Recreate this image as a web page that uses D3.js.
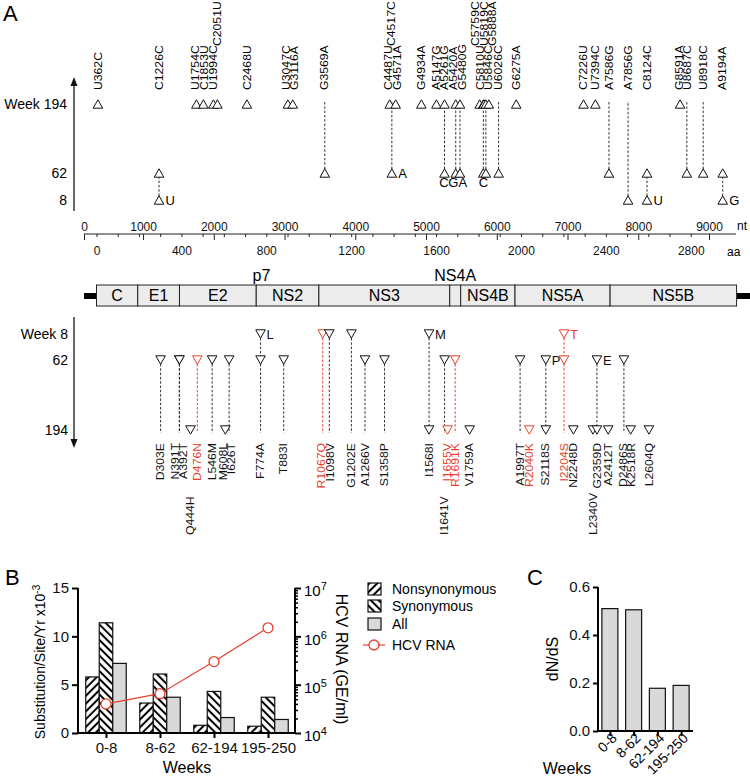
<!DOCTYPE html>
<html><head><meta charset="utf-8">
<script src="https://cdn.jsdelivr.net/npm/d3@7"></script>
<style>body{margin:0;background:#fff} svg{display:block}</style>
</head><body><svg id="c" width="750" height="781"></svg>
<script>
// ================= DATA =================
// Panel A (top): nucleotide changes
const ntMutations = ["U362C","C1226C","U1754C","C1853U","U1994C","C2051U","C2468U","U3047C","G3116A","G3569A",
  "C4487U","C4517C","G4571A","G4934A","A5147G","A5261G","A5420A","G5480G","C5759C","C5810U","U5819C","U5846C",
  "G5888A","U6026C","G6275A","C7226U","U7394C","A7586G","A7856G","C8124C","G8591A","U8687C","U8918C","A9194A"];
const ntMarks = ["194","8,62","194","194","194","194","194","194","194","62",
  "194","62","194","194","194","62,194","62,194","62,194","194","62,194","194","62,194",
  "194","62","194","194","194","62","8","8,62","194","62","62","8,62"];
const ntDashes = ["","8-62","","","","","","","","62-194",
  "","62-194","","","","62-194","62-194","62-194","","62-194","","62-194",
  "","62-194","","","","62-194","8-194","8-62","","62-194","62-194","8-62"];
const ntNotes = ["","8:U","","","","","","","","",
  "","62:A","","","","62:C","62:G","62:A","","62:C","","",
  "","","","","","","","8:U","","","","8:G"];
const ntRaisedLabels = ["C2051U","C4517C","C5759C","U5819C","G5888A"];
const ntNotesBelow = ["A5261G","A5420A","G5480G","C5810U"];

// Panel A (bottom): amino-acid changes
const aaMutations = ["D303E","N391T","A392T","Q444H","D476N","L546M","M608L","I626T","F774A","T883I",
  "R1067Q","I1098V","G1202E","A1266V","S1358P","I1568I","I1641V","I1655V","R1691K","V1759A",
  "A1997T","R2040K","S2118S","I2204S","N2248D","L2340V","G2359D","A2412T","D2486S","K2518R","L2604Q"];
const aaMarks = ["62","62","62","194","62","62","194","62","8,62","62",
  "8","8","8","62","62","8,194","62","194","62","194",
  "62","194","62,194","8,62","194","194","62,194","194","62","194","194"];
const aaDashes = ["62-194","62-194","62-194","","62-194","62-194","","62-194","8-194","62-194",
  "8-194","8-194","8-194","62-194","62-194","8-194","62-194","","62-194","",
  "62-194","","62-194","8-194","","","62-194","","62-194","",""];
const aaNotes = ["","","","","","","","","8:L","",
  "","","","","","8:M","","","","",
  "","","62:P","8:T","","","62:E","","","",""];
const aaRedMutations = ["D476N","R1067Q","I1655V","R1691K","R2040K","I2204S"];
const aaLoweredLabels = ["Q444H","I1641V","L2340V"];

const weekRows = ["194","62","8"];

// Genome map (nt)
const genes = ["C","E1","E2","NS2","NS3","NS4A","NS4B","NS5A","NS5B"];
const geneStarts = [342, 925, 1515, 2600, 3485, 5335, 5490, 6258, 7602];
const genomeEnd = 9390;
const genomeLength = 9600;
const smallGenes = ["NS4A"];
const p7Range = [2580, 2769];

const ntTicks = d3.range(0, 9001, 1000);
const aaTicks = d3.range(0, 2801, 400);

// Panel B
const periods = ["0-8","8-62","62-194","195-250"];
const subTypes = ["Nonsynonymous","Synonymous","All"];
const nonsynRate = [5.8, 3.1, 0.8, 0.7];
const synRate = [11.4, 6.1, 4.3, 3.7];
const allRate = [7.2, 3.7, 1.6, 1.4];
const hcvRNA = [40000, 65000, 300000, 1500000];
const rateTicks = [0, 5, 10, 15];
const rnaTicks = [1e4, 1e5, 1e6, 1e7];

// Panel C
const dNdS = [0.51, 0.505, 0.178, 0.19];
const dndsTicks = [0.0, 0.2, 0.4, 0.6];

// ================= DRAW =================
const FONT = "'Liberation Sans', Arial, Helvetica, sans-serif";
const RED = "#e8412c";
const svg = d3.select("#c").style("font-family", FONT);
svg.append("rect").attr("width", 750).attr("height", 781).attr("fill", "#fff");

const defs = svg.append("defs");
function hatch(id, angle) {
  const p = defs.append("pattern").attr("id", id).attr("patternUnits", "userSpaceOnUse")
    .attr("width", 5.5).attr("height", 5.5).attr("patternTransform", `rotate(${angle})`);
  p.append("rect").attr("width", 5.5).attr("height", 5.5).attr("fill", "#fff");
  p.append("line").attr("x1", 2.75).attr("y1", 0).attr("x2", 2.75).attr("y2", 5.5)
    .attr("stroke", "#000").attr("stroke-width", 2);
}
hatch("hN", 45); hatch("hS", -45);

const ntX = d3.scaleLinear().domain([0, 342, 9000]).range([84, 96.5, 709]);
const aaToNt = aa => 342 + 3 * (aa - 1);
const aaX = d3.scaleLinear().domain([0, 2800]).range([ntX(342), ntX(342 + 8400)]);
const posOf = s => +s.slice(1, -1);

[["A", 3, 21], ["B", 5, 585], ["C", 527, 585]].forEach(([t, x, y]) =>
  svg.append("text").attr("x", x).attr("y", y).attr("font-size", 22).text(t));

function spread(xs, gap) {
  const p = xs.slice();
  for (let it = 0; it < 300; it++) {
    let moved = false;
    for (let i = 1; i < p.length; i++) {
      const d = p[i] - p[i - 1];
      if (d < gap - 0.01) { const s = (gap - d) / 2; p[i] += s; p[i - 1] -= s; moved = true; }
    }
    if (!moved) break;
  }
  return p;
}

function triPath(cx, cy, up) {
  const w = 4.8, h = 4.2;
  return up ? `M${cx - w},${cy + h}L${cx + w},${cy + h}L${cx},${cy - h}Z`
            : `M${cx - w},${cy - h}L${cx + w},${cy - h}L${cx},${cy + h}Z`;
}
const LBL = 10, LBL_STRETCH = 1.22, LBL_GAP = 8.4;

// ---------- Top (nucleotide) panel ----------
const topY = d3.scaleOrdinal().domain(weekRows).range([104, 173, 200]);
const gTop = svg.append("g");
[["Week 194", "194"], ["62", "62"], ["8", "8"]].forEach(([t, w]) =>
  gTop.append("text").attr("x", 67).attr("y", topY(w)).attr("dy", "0.35em")
    .attr("text-anchor", "end").attr("font-size", 14).text(t));
gTop.append("line").attr("x1", 74).attr("x2", 74).attr("y1", 84).attr("y2", 211)
  .attr("stroke", "#333").attr("stroke-width", 1.5);
gTop.append("path").attr("d", "M70.5,86L77.5,86L74,77Z").attr("fill", "#111");

const topItems = ntMutations.map((n, i) => ({
  name: n, x: ntX(posOf(n)), marks: ntMarks[i] ? ntMarks[i].split(",") : [],
  dash: ntDashes[i], note: ntNotes[i], raised: ntRaisedLabels.includes(n)
}));
topItems.forEach(d => {
  if (!d.dash) return;
  const [a, b] = d.dash.split("-");
  gTop.append("line").attr("x1", d.x).attr("x2", d.x)
    .attr("y1", topY(a) - 4).attr("y2", d.marks.includes(b) ? topY(b) + 4 : topY(b) - 3)
    .attr("stroke", "#333").attr("stroke-width", 1).attr("stroke-dasharray", "2.5,1.8");
});
topItems.forEach(d => {
  d.marks.forEach(w => gTop.append("path").attr("d", triPath(d.x, topY(w), true))
    .attr("fill", "#fff").attr("stroke", "#111").attr("stroke-width", 1));
});
const belowNotes = topItems.filter(d => d.note && ntNotesBelow.includes(d.name)).sort((a, b) => a.x - b.x);
const belowX = spread(belowNotes.map(d => d.x), 9.5);
belowNotes.forEach((d, i) => d.nx = belowX[i]);
topItems.forEach(d => {
  if (!d.note) return;
  const [w, letter] = d.note.split(":");
  const below = ntNotesBelow.includes(d.name);
  gTop.append("text").attr("x", below ? d.nx : d.x + 6.5).attr("y", below ? topY(w) + 14 : topY(w) + 4.5)
    .attr("text-anchor", below ? "middle" : "start").attr("font-size", 13).text(letter);
});
const lowTop = topItems.filter(d => !d.raised).sort((a, b) => a.x - b.x);
const lowTopX = spread(lowTop.map(d => d.x), LBL_GAP);
lowTop.forEach((d, i) => d.lx = lowTopX[i]);
const highTop = topItems.filter(d => d.raised).sort((a, b) => a.x - b.x);
const highTopX = spread(highTop.map(d => d.x), LBL_GAP);
highTop.forEach((d, i) => d.lx = highTopX[i]);
topItems.forEach(d => {
  const y = d.raised ? 46 : 90;
  gTop.append("text").attr("transform", `translate(${d.lx + 3.6},${y}) rotate(-90) scale(${LBL_STRETCH},1)`)
    .attr("font-size", LBL).attr("text-anchor", "start").text(d.name);
});

// ---------- nt / aa axis ----------
const axY = 234;
const gAx = svg.append("g");
gAx.append("line").attr("x1", ntX(0)).attr("x2", 736).attr("y1", axY).attr("y2", axY)
  .attr("stroke", "#222").attr("stroke-width", 1);
gAx.append("g").attr("transform", `translate(0,${axY})`)
  .call(d3.axisTop(ntX).tickValues(ntTicks).tickSize(0).tickPadding(3).tickFormat(d3.format("d")))
  .call(g => g.select(".domain").remove())
  .call(g => g.selectAll("text").attr("font-size", 12).attr("font-family", FONT).attr("fill", "#111"));
gAx.append("g").attr("transform", `translate(0,${axY})`)
  .call(d3.axisBottom(ntX).tickValues(ntTicks).tickSize(6).tickFormat(""))
  .call(g => g.select(".domain").remove())
  .call(g => g.selectAll("line").attr("stroke", "#222"));
gAx.append("g").attr("transform", `translate(0,${axY})`)
  .call(d3.axisBottom(aaX).tickValues(d3.range(0, 2801, 100)).tickSize(3).tickFormat(""))
  .call(g => g.select(".domain").remove())
  .call(g => g.selectAll("line").attr("stroke", "#222"));
gAx.append("g").attr("transform", `translate(0,${axY})`)
  .call(d3.axisBottom(aaX).tickValues(aaTicks).tickSize(0).tickPadding(12).tickFormat(d3.format("d")))
  .call(g => g.select(".domain").remove())
  .call(g => g.selectAll("text").attr("font-size", 12).attr("font-family", FONT).attr("fill", "#111"));
gAx.append("text").attr("x", 737).attr("y", 230).attr("font-size", 12).text("nt");
gAx.append("text").attr("x", 727).attr("y", 256).attr("font-size", 12).text("aa");

// ---------- genome map ----------
const gG = svg.append("g");
const barY = 285, barH = 21;
gG.append("rect").attr("x", ntX(0)).attr("y", barY + 8).attr("width", ntX(geneStarts[0]) - ntX(0)).attr("height", 6).attr("fill", "#000");
gG.append("rect").attr("x", ntX(genomeEnd)).attr("y", barY + 8).attr("width", ntX(genomeLength) - ntX(genomeEnd)).attr("height", 6).attr("fill", "#000");
genes.forEach((g, i) => {
  const x0 = ntX(geneStarts[i]), x1 = ntX(i + 1 < genes.length ? geneStarts[i + 1] : genomeEnd);
  gG.append("rect").attr("x", x0).attr("y", barY).attr("width", x1 - x0).attr("height", barH)
    .attr("fill", "#ececec").attr("stroke", "#222").attr("stroke-width", 1);
  const small = smallGenes.includes(g);
  gG.append("text").attr("x", (x0 + x1) / 2).attr("y", small ? barY - 4 : barY + barH / 2)
    .attr("dy", small ? 0 : "0.36em").attr("text-anchor", "middle").attr("font-size", 16).text(g);
});
gG.append("text").attr("x", ntX((p7Range[0] + p7Range[1]) / 2)).attr("y", barY - 4)
  .attr("text-anchor", "middle").attr("font-size", 16).text("p7");

// ---------- Bottom (amino-acid) panel ----------
const botY = d3.scaleOrdinal().domain(weekRows).range([430, 360, 334]);
const gBot = svg.append("g");
[["Week 8", "8"], ["62", "62"], ["194", "194"]].forEach(([t, w]) =>
  gBot.append("text").attr("x", 68).attr("y", botY(w)).attr("dy", "0.35em")
    .attr("text-anchor", "end").attr("font-size", 14).text(t));
gBot.append("line").attr("x1", 74).attr("x2", 74).attr("y1", 317).attr("y2", 441)
  .attr("stroke", "#333").attr("stroke-width", 1.5);
gBot.append("path").attr("d", "M70.5,439L77.5,439L74,448Z").attr("fill", "#111");

const botItems = aaMutations.map((n, i) => ({
  name: n, x: ntX(aaToNt(posOf(n))), marks: aaMarks[i] ? aaMarks[i].split(",") : [],
  dash: aaDashes[i], note: aaNotes[i], red: aaRedMutations.includes(n), lowered: aaLoweredLabels.includes(n)
}));
botItems.forEach(d => {
  if (!d.dash) return;
  const [a, b] = d.dash.split("-");
  gBot.append("line").attr("x1", d.x).attr("x2", d.x)
    .attr("y1", botY(a) + 4).attr("y2", d.marks.includes(b) ? botY(b) - 4 : botY(b) + 3)
    .attr("stroke", d.red ? RED : "#333").attr("stroke-width", 1).attr("stroke-dasharray", "2.5,1.8");
});
botItems.forEach(d => {
  d.marks.forEach(w => gBot.append("path").attr("d", triPath(d.x, botY(w), false))
    .attr("fill", "#fff").attr("stroke", d.red ? RED : "#111").attr("stroke-width", 1));
  if (d.note) {
    const [w, letter] = d.note.split(":");
    gBot.append("text").attr("x", d.x + 6).attr("y", botY(w) + 4.5)
      .attr("font-size", 13).attr("fill", d.red ? RED : "#111").text(letter);
  }
});
const rowBot = botItems.filter(d => !d.lowered).sort((a, b) => a.x - b.x);
const rowBotX = spread(rowBot.map(d => d.x), LBL_GAP);
rowBot.forEach((d, i) => d.lx = rowBotX[i]);
botItems.filter(d => d.lowered).forEach(d => d.lx = d.x);
botItems.forEach(d => {
  const t = gBot.append("text").attr("font-size", LBL).attr("fill", d.red ? RED : "#111").text(d.name);
  if (d.lowered) t.attr("transform", `translate(${d.lx + 3.6},535) rotate(-90) scale(${LBL_STRETCH},1)`).attr("text-anchor", "start");
  else t.attr("transform", `translate(${d.lx + 3.6},443) rotate(-90) scale(${LBL_STRETCH},1)`).attr("text-anchor", "end");
});

// ---------- Panel B ----------
const gB = svg.append("g");
const xB = d3.scalePoint().domain(periods).range([79, 295]).padding(0.5);
const subX = d3.scaleBand().domain(subTypes).range([-20.25, 20.25]);
const yB = d3.scaleLinear().domain([0, 15]).range([733, 588]);
const yR = d3.scaleLog().domain([1e4, 1e7]).range([733, 588]);
const fills = { "Nonsynonymous": "url(#hN)", "Synonymous": "url(#hS)", "All": "#d9d9d9" };
const series = { "Nonsynonymous": nonsynRate, "Synonymous": synRate, "All": allRate };
periods.forEach((p, i) => {
  subTypes.forEach(s => {
    const v = series[s][i];
    gB.append("rect").attr("x", xB(p) + subX(s)).attr("y", yB(v)).attr("width", subX.bandwidth())
      .attr("height", yB(0) - yB(v)).attr("fill", fills[s]).attr("stroke", "#111").attr("stroke-width", 1.2);
  });
});
gB.append("g").attr("transform", "translate(78,0)")
  .call(d3.axisLeft(yB).tickValues(rateTicks).tickSize(6).tickPadding(3))
  .call(g => g.select(".domain").attr("stroke-width", 2).attr("d", "M0,588V733"))
  .call(g => g.selectAll("line").attr("stroke-width", 2))
  .call(g => g.selectAll("text").attr("font-size", 15).attr("font-family", FONT).attr("fill", "#111"));
gB.append("g").attr("transform", "translate(0,733)")
  .call(d3.axisBottom(xB).tickSize(5).tickPadding(4))
  .call(g => g.select(".domain").attr("stroke-width", 2).attr("d", "M78,0H295"))
  .call(g => g.selectAll("line").attr("stroke-width", 2))
  .call(g => g.selectAll("text").attr("font-size", 15).attr("font-family", FONT).attr("fill", "#111"));
const minorR = [];
[1e4, 1e5, 1e6].forEach(b => d3.range(2, 10).forEach(k => minorR.push(b * k)));
gB.append("g").attr("transform", "translate(295,0)")
  .call(d3.axisRight(yR).tickValues(minorR).tickSize(3).tickFormat(""))
  .call(g => g.select(".domain").remove())
  .call(g => g.selectAll("line").attr("stroke-width", 1.5));
gB.append("g").attr("transform", "translate(295,0)")
  .call(d3.axisRight(yR).tickValues(rnaTicks).tickSize(6).tickFormat(""))
  .call(g => g.select(".domain").attr("stroke-width", 2).attr("d", "M0,588V733"))
  .call(g => g.selectAll("line").attr("stroke-width", 2));
rnaTicks.forEach(t => {
  const tx = gB.append("text").attr("x", 304).attr("y", yR(t)).attr("dy", "0.55em").attr("font-size", 15);
  tx.append("tspan").text("10");
  tx.append("tspan").attr("dy", "-0.55em").attr("font-size", 11).text(Math.round(Math.log10(t)));
});
const line = d3.line().x((d, i) => xB(periods[i])).y(d => yR(d));
gB.append("path").attr("d", line(hcvRNA)).attr("fill", "none").attr("stroke", RED).attr("stroke-width", 1.2);
hcvRNA.forEach((v, i) => gB.append("circle").attr("cx", xB(periods[i])).attr("cy", yR(v)).attr("r", 5)
  .attr("fill", "#fff").attr("stroke", RED).attr("stroke-width", 1.3));
const lt = gB.append("text").attr("transform", "translate(45,662) rotate(-90)").attr("text-anchor", "middle").attr("font-size", 14);
lt.append("tspan").text("Substitution/Site/Yr x10");
lt.append("tspan").attr("dy", "-0.5em").attr("font-size", 10).text("-3");
gB.append("text").attr("transform", "translate(336,659) rotate(90)").attr("text-anchor", "middle").attr("font-size", 16).text("HCV RNA (GE/ml)");
gB.append("text").attr("x", 187).attr("y", 773).attr("text-anchor", "middle").attr("font-size", 16).text("Weeks");
const legY = [589, 606, 624];
subTypes.forEach((s, i) => {
  gB.append("rect").attr("x", 368).attr("y", legY[i] - 6).attr("width", 13).attr("height", 12)
    .attr("fill", fills[s]).attr("stroke", "#111").attr("stroke-width", 1.2);
  gB.append("text").attr("x", 392).attr("y", legY[i]).attr("dy", "0.36em").attr("font-size", 14).text(s);
});
gB.append("line").attr("x1", 363).attr("x2", 385).attr("y1", 645).attr("y2", 645).attr("stroke", RED).attr("stroke-width", 1.2);
gB.append("circle").attr("cx", 374).attr("cy", 645).attr("r", 5).attr("fill", "#fff").attr("stroke", RED).attr("stroke-width", 1.3);
gB.append("text").attr("x", 392).attr("y", 645).attr("dy", "0.36em").attr("font-size", 14).text("HCV RNA");

// ---------- Panel C ----------
const gC = svg.append("g");
const xC = d3.scalePoint().domain(periods).range([598, 693]).padding(0.5);
const yC = d3.scaleLinear().domain([0, 0.6]).range([731, 587]);
periods.forEach((p, i) => {
  gC.append("rect").attr("x", xC(p) - 8).attr("y", yC(dNdS[i])).attr("width", 16)
    .attr("height", yC(0) - yC(dNdS[i])).attr("fill", "#d9d9d9").attr("stroke", "#111").attr("stroke-width", 1.2);
});
gC.append("g").attr("transform", "translate(598,0)")
  .call(d3.axisLeft(yC).tickValues(dndsTicks).tickSize(5).tickPadding(3).tickFormat(d3.format(".1f")))
  .call(g => g.select(".domain").attr("stroke-width", 2).attr("d", "M0,587V731"))
  .call(g => g.selectAll("line").attr("stroke-width", 2))
  .call(g => g.selectAll("text").attr("font-size", 15).attr("font-family", FONT).attr("fill", "#111"));
gC.append("g").attr("transform", "translate(0,731)")
  .call(d3.axisBottom(xC).tickSize(5).tickFormat(""))
  .call(g => g.select(".domain").attr("stroke-width", 2).attr("d", "M598,0H693"))
  .call(g => g.selectAll("line").attr("stroke-width", 2));
periods.forEach(p => gC.append("text").attr("transform", `translate(${xC(p) + 8},${739}) rotate(-45)`)
  .attr("text-anchor", "end").attr("font-size", 14).text(p));
gC.append("text").attr("transform", "translate(558,659) rotate(-90)").attr("text-anchor", "middle").attr("font-size", 16).text("dN/dS");
gC.append("text").attr("x", 567).attr("y", 774).attr("text-anchor", "middle").attr("font-size", 16).text("Weeks");
</script></body></html>
